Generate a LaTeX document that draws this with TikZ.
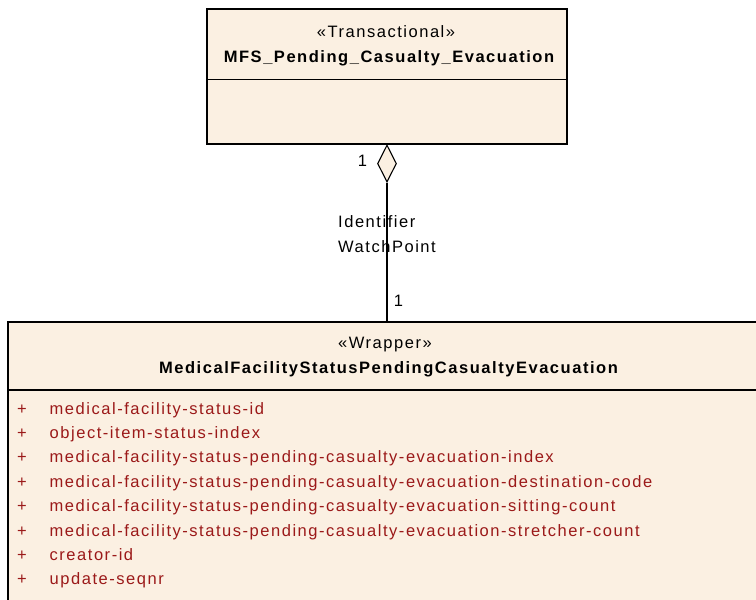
\documentclass[tikz,border=0pt]{standalone}
\usepackage{fontspec}
\setmainfont{Liberation Sans}[LetterSpace=9.3]
\usetikzlibrary{shapes.geometric}
\definecolor{boxfill}{RGB}{251,240,226}
\definecolor{attrred}{RGB}{155,25,25}
\tikzset{
  umlbox/.style={draw=black, line width=1.5pt, fill=boxfill, inner sep=0pt},
  txt/.style={inner sep=0pt, font=\fontsize{16.5}{19}\selectfont},
  btxt/.style={inner sep=0pt, font=\fontsize{16.5}{19}\selectfont\bfseries},
  attr/.style={inner sep=0pt, anchor=base west, text=attrred, font=\fontsize{16.5}{19}\selectfont},
  agg/.style={draw=black, line width=1.1pt, fill=boxfill, shape=diamond, inner sep=0pt, minimum width=19pt, minimum height=37pt},
  link/.style={draw=black, line width=1.1pt}
}
\begin{document}
\begin{tikzpicture}[x=1pt,y=-1pt]
\useasboundingbox (0,0) rectangle (756,600);
\clip (0,0) rectangle (756,600);
% top class
\node[umlbox, anchor=north west, minimum width=360pt, minimum height=135pt] (top) at (206,8) {};
\draw[line width=1.1pt] (206,79.3) -- (566,79.3);
\node[txt, anchor=base] (topst) at (386,37.3) {«Transactional»};
\node[btxt, anchor=base] (topname) at (389,62) {MFS\_Pending\_Casualty\_Evacuation};
% bottom class
\node[umlbox, anchor=north west, minimum width=770pt, minimum height=300pt] (bot) at (7,321) {};
\draw[line width=1.1pt] (7,390) -- (780,390);
\node[txt, anchor=base] (botst) at (385,348.5) {«Wrapper»};
\node[btxt, anchor=base] (botname) at (388.5,373) {MedicalFacilityStatusPendingCasualtyEvacuation};
% attributes
\foreach \i/\t in {0/medical-facility-status-id,
  1/object-item-status-index,
  2/medical-facility-status-pending-casualty-evacuation-index,
  3/medical-facility-status-pending-casualty-evacuation-destination-code,
  4/medical-facility-status-pending-casualty-evacuation-sitting-count,
  5/medical-facility-status-pending-casualty-evacuation-stretcher-count,
  6/creator-id,
  7/update-seqnr} {
  \node[attr] (plus\i) at (17,414+24.4*\i) {+};
  \node[attr] (a\i) at (49.5,414+24.4*\i) {\t};
}
% aggregation
\node[agg, anchor=north] (dia) at (top.south -| 387,0) {};
\draw[link] (dia.south) -- (dia.south |- bot.north);
\node[txt, anchor=base] (m1) at (362.5,166) {1};
\node[txt, anchor=base] (m2) at (398.5,306.5) {1};
\node[txt, anchor=base west] (l1) at (338,227) {Identifier};
\node[txt, anchor=base west] (l2) at (338,252) {WatchPoint};
\end{tikzpicture}
\end{document}
